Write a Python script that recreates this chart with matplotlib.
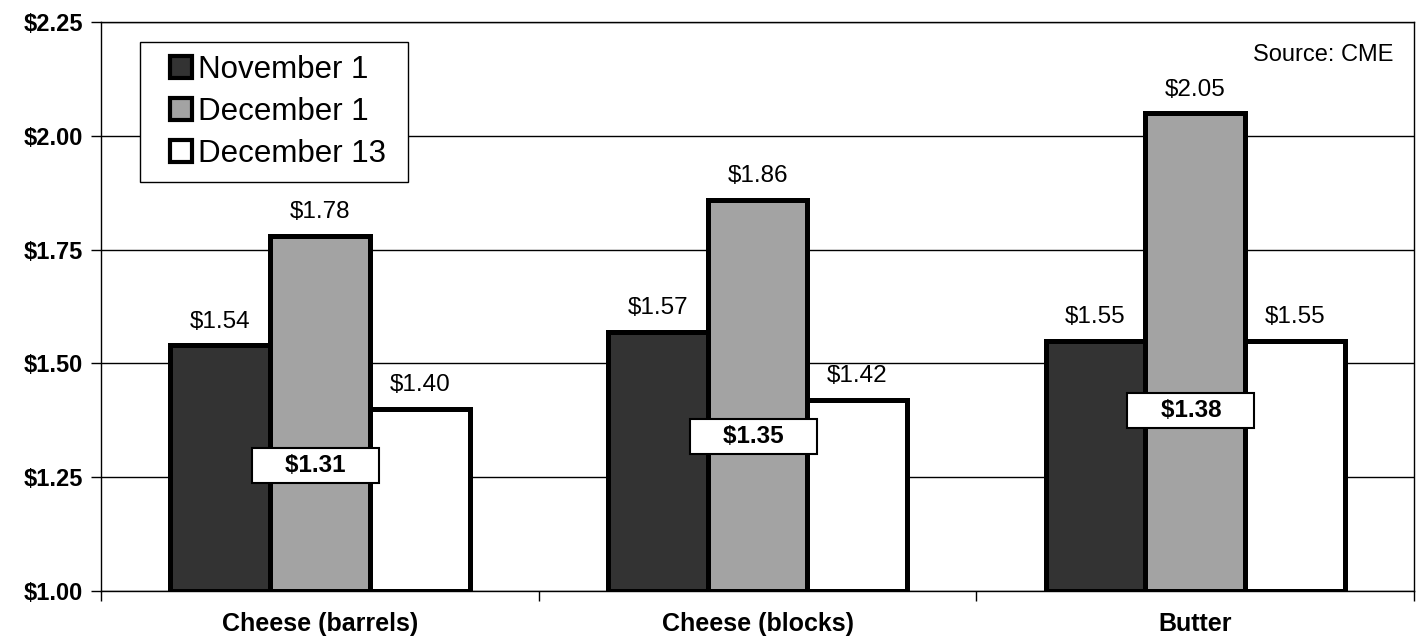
import numpy as np
import matplotlib
matplotlib.use("Agg")
import matplotlib.pyplot as plt
from matplotlib.patches import Patch, Rectangle
from matplotlib.legend_handler import HandlerPatch

# =========================
# DATA
# =========================

categories = ["Cheese (barrels)", "Cheese (blocks)", "Butter"]
series_names = ["November 1", "December 1", "December 13"]

nov_1 = [1.54, 1.57, 1.55]
dec_1 = [1.78, 1.86, 2.05]
dec_13 = [1.40, 1.42, 1.55]

boxed_values = [1.31, 1.35, 1.38]

y_ticks = [1.00, 1.25, 1.50, 1.75, 2.00, 2.25]

# =========================
# STYLE / LAYOUT
# =========================

plt.rcParams["font.family"] = ["Liberation Sans", "DejaVu Sans"]

fill_colors = ["#333333", "#a3a3a3", "#ffffff"]
bar_width = 0.228
box_label_y = [1.275, 1.34, 1.397]   # where the boxed labels sit


class SquareHandler(HandlerPatch):
    # small square pushed to the right side of the handle box
    def create_artists(self, legend, orig_handle, xdescent, ydescent,
                       width, height, fontsize, trans):
        s = 0.7 * fontsize
        p = Rectangle(
            (-xdescent + width - s, -ydescent + (height - s) / 2),
            s, s,
            facecolor=orig_handle.get_facecolor(),
            edgecolor="black",
            linewidth=3,
            transform=trans,
        )
        return [p]


fig = plt.figure(figsize=(14.21, 6.44), dpi=100)
ax = fig.add_axes([0.0711, 0.0823, 0.9240, 0.8835])

x = np.arange(len(categories))
all_series = [nov_1, dec_1, dec_13]

for i, values in enumerate(all_series):
    offset = (i - 1) * bar_width
    bars = ax.bar(
        x + offset,
        np.array(values) - 1.0,
        bottom=1.0,
        width=bar_width,
        color=fill_colors[i],
        edgecolor="black",
        linewidth=3.6,
        zorder=3,
    )
    for bar, v in zip(bars, values):
        ax.annotate(
            f"${v:.2f}",
            xy=(bar.get_x() + bar.get_width() / 2, v),
            xytext=(0, 9),
            textcoords="offset points",
            ha="center",
            va="bottom",
            fontsize=17.5,
            zorder=5,
        )

# boxed labels
for xi, v, yb in zip(x, boxed_values, box_label_y):
    ax.text(
        xi - 0.01,
        yb,
        "    $%.2f    " % v,
        ha="center",
        va="center",
        fontsize=17.5,
        fontweight="bold",
        zorder=6,
        bbox=dict(boxstyle="square,pad=0.25", facecolor="white",
                  edgecolor="black", linewidth=1.5),
    )

# =========================
# AXES
# =========================

ax.set_xlim(-0.5, 2.5)
ax.set_ylim(1.0, 2.25)

ax.set_yticks(y_ticks)
ax.set_yticklabels([f"${t:.2f}" for t in y_ticks],
                   fontsize=17, fontweight="bold")
ax.tick_params(axis="y", length=7, width=1, direction="out", pad=6)

ax.set_xticks(x)
ax.set_xticklabels(categories, fontsize=18, fontweight="bold")
ax.tick_params(axis="x", which="major", length=0, pad=15)
ax.set_xticks([-0.5, 0.5, 1.5, 2.5], minor=True)
ax.tick_params(axis="x", which="minor", length=7, width=1, direction="out")

ax.grid(axis="y", color="black", linewidth=1, zorder=0)
ax.set_axisbelow(True)

for s in ax.spines.values():
    s.set_color("black")
    s.set_linewidth(1)

# =========================
# LEGEND + SOURCE
# =========================

handles = [
    Patch(facecolor=c, edgecolor="black", linewidth=3, label=n + " ")
    for c, n in zip(fill_colors, series_names)
]
leg = ax.legend(
    handles=handles,
    handler_map={Patch: SquareHandler()},
    loc="upper left",
    bbox_to_anchor=(0.0297, 0.965),
    borderaxespad=0,
    fontsize=22.5,
    handlelength=1.25,
    handleheight=0.75,
    handletextpad=0.2,
    labelspacing=0.38,
    borderpad=0.42,
    fancybox=False,
    framealpha=1,
    edgecolor="black",
)
leg.get_frame().set_linewidth(1)
leg.set_zorder(10)

ax.text(0.984, 0.942, "Source: CME", transform=ax.transAxes,
        ha="right", va="center", fontsize=17)

fig.savefig("out.png", dpi=100)
